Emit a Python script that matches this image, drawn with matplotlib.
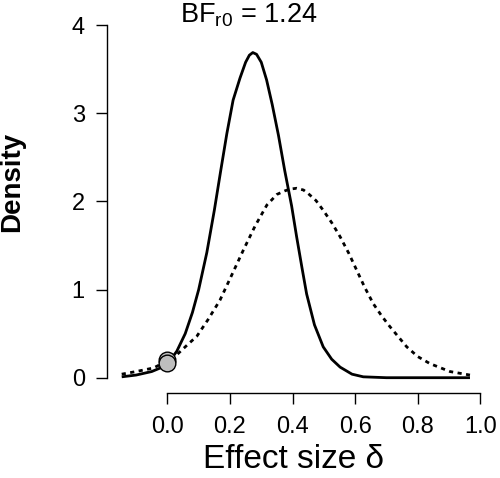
import matplotlib
matplotlib.use("Agg")
import matplotlib.pyplot as plt

plt.rcParams.update({"font.family": ["Liberation Sans", "DejaVu Sans"],
                     "mathtext.fontset": "custom",
                     "mathtext.rm": "Liberation Sans",
                     "mathtext.it": "Liberation Sans"})

# posterior (replication) density
post_x = [-0.146, -0.10, -0.05, -0.023, 0.003, 0.03, 0.057, 0.08, 0.10, 0.126,
          0.15, 0.17, 0.19, 0.21, 0.232, 0.25, 0.262, 0.273, 0.285, 0.30,
          0.317, 0.335, 0.355, 0.375, 0.397, 0.413, 0.43, 0.445, 0.47, 0.498,
          0.525, 0.552, 0.59, 0.626, 0.70, 0.967]
post_y = [0.01, 0.03, 0.07, 0.11, 0.17, 0.30, 0.50, 0.74, 1.00, 1.42,
          1.90, 2.34, 2.77, 3.15, 3.40, 3.58, 3.66, 3.69, 3.67, 3.58,
          3.38, 3.10, 2.75, 2.35, 1.95, 1.60, 1.25, 0.95, 0.60, 0.35,
          0.21, 0.12, 0.04, 0.01, 0.0, 0.0]

# prior (original study posterior)
prior_x = [-0.146, -0.10, -0.045, 0.0, 0.03, 0.06, 0.094, 0.13, 0.168, 0.205,
           0.243, 0.28, 0.318, 0.35, 0.375, 0.392, 0.413, 0.435, 0.45, 0.475,
           0.498, 0.525, 0.552, 0.58, 0.605, 0.63, 0.658, 0.685, 0.711, 0.765,
           0.80, 0.839, 0.903, 0.967]
prior_y = [0.04, 0.07, 0.11, 0.19, 0.26, 0.36, 0.47, 0.66, 0.88, 1.16,
           1.45, 1.72, 1.96, 2.08, 2.12, 2.14, 2.15, 2.13, 2.09, 2.01,
           1.90, 1.76, 1.60, 1.41, 1.22, 1.03, 0.84, 0.70, 0.58, 0.35,
           0.24, 0.16, 0.07, 0.03]

dens_at_zero = [0.20, 0.163]   # prior, posterior
bf_r0 = 1.24

fig = plt.figure(figsize=(5.0, 4.78), dpi=100)
ax = fig.add_axes([0.214, 0.1772, 0.7466, 0.770])

ax.plot(prior_x, prior_y, color="black", lw=2, linestyle=(0, (1.5, 1.6)))
ax.plot(post_x, post_y, color="black", lw=2, solid_capstyle="butt")
for d in dens_at_zero:
    ax.plot([0], [d], "o", ms=12, mfc="#BEBEBE", mec="black", mew=1, zorder=5)

ax.set_xlim(-0.193, 1.0)
ax.set_ylim(-0.177, 4.0)
for s in ("top", "right"):
    ax.spines[s].set_visible(False)
ax.spines["left"].set_bounds(0, 4)
ax.spines["bottom"].set_bounds(0, 1)
for s in ("left", "bottom"):
    ax.spines[s].set_linewidth(1)
ax.set_xticks([0, 0.2, 0.4, 0.6, 0.8, 1.0])
ax.set_xticklabels(["0.0", "0.2", "0.4", "0.6", "0.8", "1.0"])
ax.set_yticks([0, 1, 2, 3, 4])
ax.tick_params(labelsize=17, length=8, width=1, pad=8)

ax.set_xlabel("Effect size δ", fontsize=24, labelpad=5)
ax.set_ylabel("Density", fontsize=20, fontweight="bold")
ax.yaxis.set_label_coords(-0.22, 0.573)

fig.text(0.498, 0.952, r"BF$_{\mathrm{r0}}$ = " + f"{bf_r0:.2f}", fontsize=19.5,
         ha="center", va="baseline")

fig.savefig("out.png", dpi=100)
